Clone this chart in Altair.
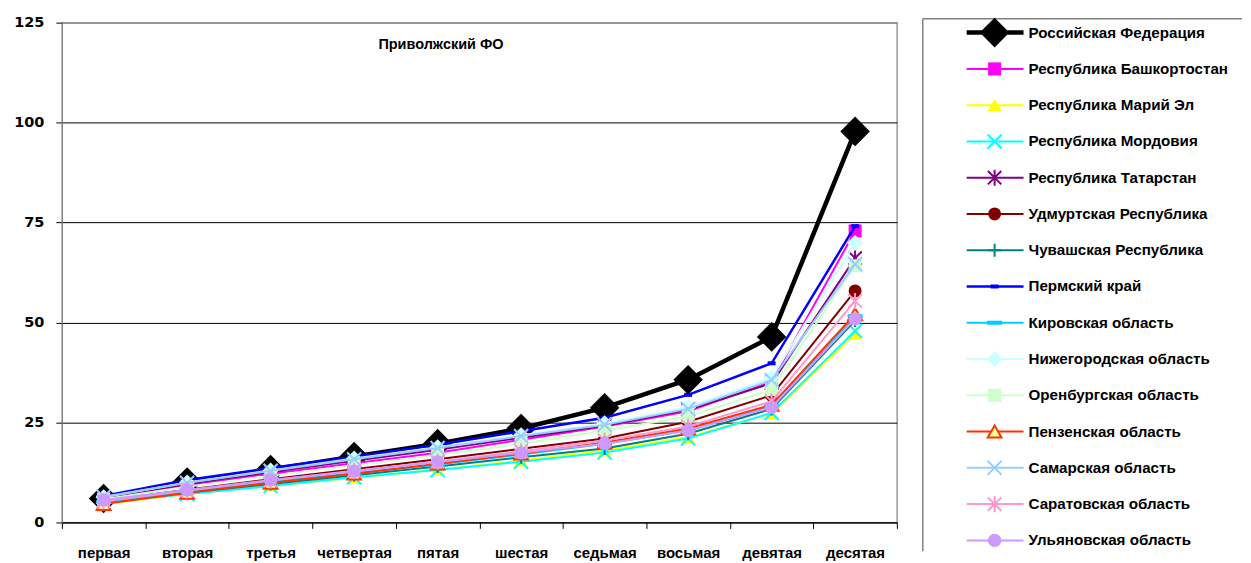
import altair as alt
import pandas as pd

categories = ["первая", "вторая", "третья", "четвертая", "пятая",
              "шестая", "седьмая", "восьмая", "девятая", "десятая"]

series_names = [
    "Российская Федерация",
    "Республика Башкортостан",
    "Республика Марий Эл",
    "Республика Мордовия",
    "Республика Татарстан",
    "Удмуртская Республика",
    "Чувашская Республика",
    "Пермский край",
    "Кировская область",
    "Нижегородская область",
    "Оренбургская область",
    "Пензенская область",
    "Самарская область",
    "Саратовская область",
    "Ульяновская область",
]

rf        = [6.0, 10.1, 13.2, 16.5, 19.7, 23.5, 28.7, 35.7, 46.4, 97.8]
bashk     = [5.9, 9.2, 12.2, 14.8, 17.4, 20.7, 24.0, 27.8, 35.2, 72.9]
mari_el   = [4.6, 7.1, 9.2, 11.2, 13.2, 15.5, 18.0, 21.3, 27.2, 47.2]
mordovia  = [4.9, 7.1, 9.1, 11.3, 13.1, 15.2, 17.5, 21.0, 27.4, 47.9]
tatarstan = [6.1, 9.6, 12.6, 15.4, 18.2, 21.2, 24.2, 28.2, 34.8, 66.1]
udmurt    = [5.4, 8.2, 10.8, 13.3, 15.8, 18.4, 21.0, 25.2, 31.8, 57.9]
chuvash   = [5.0, 7.4, 9.6, 11.8, 14.0, 16.3, 18.5, 22.2, 28.4, 50.5]
perm      = [6.6, 10.6, 13.6, 16.4, 19.4, 22.8, 26.2, 31.9, 39.8, 74.1]
kirov     = [5.1, 7.7, 10.2, 12.3, 14.5, 17.0, 19.7, 23.0, 29.1, 51.6]
nizhny    = [6.3, 10.0, 13.0, 16.0, 18.8, 21.8, 24.8, 28.8, 36.2, 69.9]
orenburg  = [5.8, 8.9, 11.7, 14.3, 16.8, 19.7, 23.0, 26.5, 33.2, 64.2]
penza     = [4.6, 7.4, 9.9, 12.2, 14.7, 17.2, 20.0, 23.5, 29.4, 52.1]
samara    = [6.4, 9.9, 12.9, 15.8, 18.6, 21.6, 24.4, 28.4, 35.6, 64.6]
saratov   = [5.3, 8.0, 10.5, 12.9, 15.2, 17.8, 20.5, 24.0, 30.3, 55.4]
ulyanovsk = [5.6, 8.1, 10.6, 12.8, 15.1, 17.4, 19.7, 23.0, 28.8, 50.9]

all_values = [rf, bashk, mari_el, mordovia, tatarstan, udmurt, chuvash, perm,
              kirov, nizhny, orenburg, penza, samara, saratov, ulyanovsk]

y_ticks = [0, 25, 50, 75, 100, 125]
title_text = "Приволжский ФО"

X_PATH = "M-1,-1L1,1M-1,1L1,-1"
AST_PATH = "M-1,-1L1,1M-1,1L1,-1M0,-1.2L0,1.2"
PLUS_PATH = "M-1,0L1,0M0,-1L0,1"
DASH_S = "M-1,-0.5H1V0.5H-1Z"
DASH_L = "M-1,-0.27H1V0.27H-1Z"

styles = [
    dict(c="#000000", w=4.5, shape="diamond", size=880, filled=True, fill="#000000", stroke=None, sw=0),
    dict(c="#FF00FF", w=2, shape="square", size=170, filled=True, fill="#FF00FF", stroke=None, sw=0),
    dict(c="#FFFF00", w=2, shape="triangle-up", size=190, filled=True, fill="#FFFF00", stroke=None, sw=0),
    dict(c="#00FFFF", w=2, shape=X_PATH, size=200, filled=False, fill=None, stroke="#00FFFF", sw=2),
    dict(c="#800080", w=2, shape=AST_PATH, size=180, filled=False, fill=None, stroke="#800080", sw=2),
    dict(c="#800000", w=2, shape="circle", size=170, filled=True, fill="#800000", stroke=None, sw=0),
    dict(c="#008080", w=2, shape=PLUS_PATH, size=170, filled=False, fill=None, stroke="#008080", sw=2),
    dict(c="#0000FF", w=2.5, shape=DASH_S, size=64, filled=True, fill="#0000FF", stroke=None, sw=0),
    dict(c="#00CCFF", w=2, shape=DASH_L, size=225, filled=True, fill="#00CCFF", stroke=None, sw=0),
    dict(c="#CCFFFF", w=2, shape="diamond", size=260, filled=True, fill="#CCFFFF", stroke=None, sw=0),
    dict(c="#CCFFCC", w=2, shape="square", size=170, filled=True, fill="#CCFFCC", stroke=None, sw=0),
    dict(c="#FF3300", w=2, shape="triangle-up", size=190, filled=True, fill="#FFFF99", stroke="#FF3300", sw=2),
    dict(c="#99CCFF", w=2, shape=X_PATH, size=200, filled=False, fill=None, stroke="#99CCFF", sw=2),
    dict(c="#FF99CC", w=2, shape=AST_PATH, size=180, filled=False, fill=None, stroke="#FF99CC", sw=2),
    dict(c="#CC99FF", w=2, shape="circle", size=180, filled=True, fill="#CC99FF", stroke=None, sw=0),
]

rows = []
for name, vals in zip(series_names, all_values):
    for cat, v in zip(categories, vals):
        rows.append({"series": name, "cat": cat, "val": v})
df = pd.DataFrame(rows)

PLOT_W, PLOT_H = 837, 501

x_axis = alt.Axis(title=None, labelAngle=0, tickBand="extent", tickSize=6,
                  tickColor="#000000", domainColor="#000000", labelColor="#000000",
                  labelFont="Liberation Sans", labelFontWeight="bold", labelFontSize=15,
                  labelPadding=17, grid=False)
y_axis = alt.Axis(title=None, values=y_ticks, tickSize=6, tickColor="#000000",
                  domainColor="#808080", labelColor="#000000",
                  labelFont="DejaVu Sans", labelFontWeight="bold", labelFontSize=14.5,
                  labelPadding=12, minExtent=48, grid=True,
                  gridColor={"condition": {"test": "datum.value >= 125", "value": "#808080"},
                             "value": "#000000"},
                  gridWidth=1)

x_enc = alt.X("cat:N", sort=categories,
              scale=alt.Scale(type="band", domain=categories, paddingInner=0, paddingOuter=0),
              bandPosition=0.5, axis=x_axis)
y_enc = alt.Y("val:Q", scale=alt.Scale(domain=[0, 125], nice=False, zero=True), axis=y_axis)

def point_kwargs(st):
    pkw = dict(shape=st["shape"], size=st["size"], opacity=1, filled=st["filled"])
    if st["fill"]:
        pkw["fill"] = st["fill"]
    if st["stroke"]:
        pkw["stroke"] = st["stroke"]
    pkw["strokeWidth"] = st["sw"]
    return pkw

layers = []
for name, st in zip(series_names, styles):
    d = alt.Chart(df).transform_filter(alt.datum.series == name)
    layers.append(d.mark_line(color=st["c"], strokeWidth=st["w"]).encode(x=x_enc, y=y_enc))
    layers.append(d.mark_point(**point_kwargs(st)).encode(x=x_enc, y=y_enc))

title_layer = alt.Chart(pd.DataFrame({"t": [title_text]})).mark_text(
    font="Liberation Sans", fontSize=14.5, fontWeight="bold", color="#000000",
    align="center", baseline="middle"
).encode(text="t:N", x=alt.value(380), y=alt.value(22))
layers.append(title_layer)

main = alt.layer(*layers).properties(
    width=PLOT_W, height=PLOT_H,
    view=alt.ViewBackground(stroke="#808080", strokeWidth=1.2),
)

# legend panel (its top sits at the plot-area top, page y ~21)
T = 21
LW, LH = 320, 530
leg_df = pd.DataFrame({"series": series_names, "idx": list(range(len(series_names)))})
ly = alt.Y("idx:Q", scale=alt.Scale(domain=[0, 14], range=[31 - T, 540 - T]), axis=None)

leg_layers = []
one = pd.DataFrame({"a": [0]})
leg_layers.append(alt.Chart(one).mark_rule(color="#808080", strokeWidth=1.5).encode(
    x=alt.value(0), x2=alt.value(LW), y=alt.value(17 - T)))
leg_layers.append(alt.Chart(one).mark_rule(color="#808080", strokeWidth=1.5).encode(
    x=alt.value(0), y=alt.value(17 - T), y2=alt.value(LH)))
for name, st in zip(series_names, styles):
    d = alt.Chart(leg_df).transform_filter(alt.datum.series == name)
    leg_layers.append(d.mark_rule(color=st["c"], strokeWidth=st["w"]).encode(
        x=alt.value(44), x2=alt.value(101), y=ly))
    leg_layers.append(d.mark_point(**point_kwargs(st)).encode(x=alt.value(72), y=ly))
leg_layers.append(alt.Chart(leg_df).mark_text(
    font="Liberation Sans", fontSize=15.2, fontWeight="bold", color="#000000",
    align="left", baseline="middle").encode(x=alt.value(106), y=ly, text="series:N"))

legend = alt.layer(*leg_layers).properties(
    width=LW, height=LH, view=alt.ViewBackground(stroke=None))

chart = alt.hconcat(main, legend, spacing=23).properties(
    padding={"left": 5, "top": 5, "right": 0, "bottom": 0},
    background="white",
).configure_view(stroke=None).configure_concat(spacing=23)

chart.save("out.html", embed_options={"renderer": "svg", "actions": False})
